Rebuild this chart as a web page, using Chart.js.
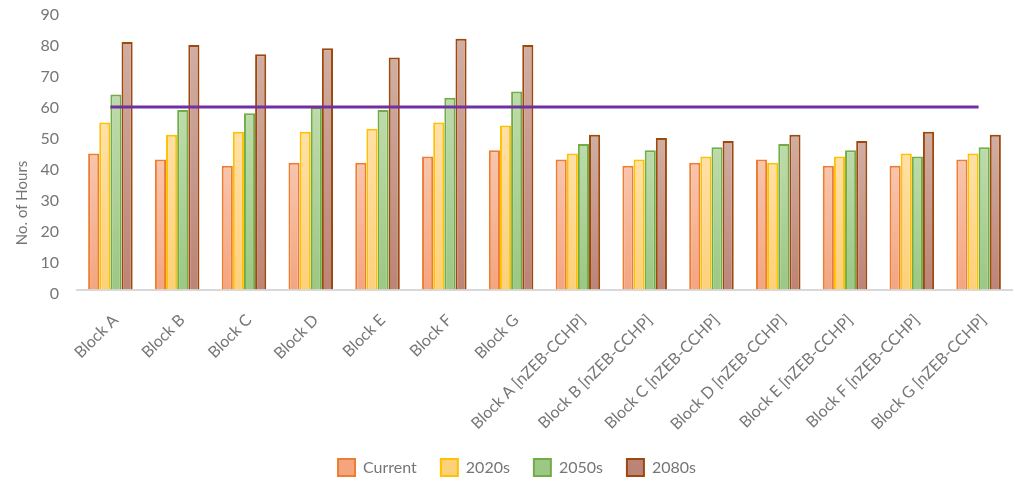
<!DOCTYPE html>
<html>
<head>
<meta charset="utf-8">
<script src="https://cdn.jsdelivr.net/npm/chart.js@4/dist/chart.umd.min.js"></script>
<style>
  html, body { margin: 0; padding: 0; background: #fff; }
  canvas { display: block; }
</style>
</head>
<body>
<canvas id="hoursChart" width="1015" height="483"></canvas>
<script>
// Overheating hours per block, current climate and future periods
const blocks = [
  'Block A', 'Block B', 'Block C', 'Block D', 'Block E', 'Block F', 'Block G',
  'Block A [nZEB-CCHP]', 'Block B [nZEB-CCHP]', 'Block C [nZEB-CCHP]', 'Block D [nZEB-CCHP]',
  'Block E [nZEB-CCHP]', 'Block F [nZEB-CCHP]', 'Block G [nZEB-CCHP]'
];
const current = [44, 42, 40, 41, 41, 43, 45, 42, 40, 41, 42, 40, 40, 42];
const y2020s  = [54, 50, 51, 51, 52, 54, 53, 44, 42, 43, 41, 43, 44, 44];
const y2050s  = [63, 58, 57, 59, 58, 62, 64, 47, 45, 46, 47, 45, 43, 46];
const y2080s  = [80, 79, 76, 78, 75, 81, 79, 50, 49, 48, 50, 48, 51, 50];
const limitHours = [59, 59, 59, 59, 59, 59, 59, 59, 59, 59, 59, 59, 59, 59];

const yTicks = { min: 0, max: 90, step: 10 };

const textGrey = '#767676';
const fontFamily = 'Lato, "Open Sans", sans-serif';

// vertical gradient for each bar, lighter at the top
function barFill(topColor, bottomColor, flatColor) {
  return (context) => {
    const chart = context.chart;
    if (context.type !== 'data' || !chart.chartArea || !context.parsed) return flatColor;
    const y = chart.scales.y;
    const yTop = y.getPixelForValue(context.parsed.y);
    const yBase = y.getPixelForValue(0);
    const g = chart.ctx.createLinearGradient(0, yTop, 0, yBase);
    g.addColorStop(0, topColor);
    g.addColorStop(1, bottomColor);
    return g;
  };
}

// rotated axis title on the left
const yTitle = {
  id: 'yTitle',
  afterDraw(chart) {
    const { ctx, scales: { y } } = chart;
    ctx.save();
    ctx.translate(22, y.getPixelForValue(28));
    ctx.rotate(-Math.PI / 2);
    ctx.font = '15px ' + fontFamily;
    ctx.fillStyle = textGrey;
    ctx.textAlign = 'center';
    ctx.textBaseline = 'middle';
    ctx.fillText('No. of Hours', 0, 0);
    ctx.restore();
  }
};

// the legend centres its row including the trailing gap; nudge it back
const legendNudge = {
  id: 'legendNudge',
  afterLayout(chart) {
    if (chart.legend) {
      chart.legend.left += 11;
      chart.legend.right += 11;
    }
  }
};

const ctx = document.getElementById('hoursChart').getContext('2d');
new Chart(ctx, {
  type: 'bar',
  data: {
    labels: blocks,
    datasets: [
      {
        type: 'line',
        label: 'Limit',
        data: limitHours,
        borderColor: '#7030A0',
        borderWidth: 3,
        pointRadius: 0,
        fill: false,
        order: 0
      },
      {
        label: 'Current',
        data: current,
        backgroundColor: barFill('#F8C5AE', '#F4A580', '#F5B495'),
        borderColor: '#ED7D31',
        borderWidth: 2,
        order: 1
      },
      {
        label: '2020s',
        data: y2020s,
        backgroundColor: barFill('#FFE0A8', '#FDD07A', '#FED993'),
        borderColor: '#FFC000',
        borderWidth: 2,
        order: 1
      },
      {
        label: '2050s',
        data: y2050s,
        backgroundColor: barFill('#BEDBAB', '#9CC784', '#B0D29A'),
        borderColor: '#70AD47',
        borderWidth: 2,
        order: 1
      },
      {
        label: '2080s',
        data: y2080s,
        backgroundColor: barFill('#D1AEA2', '#BC8476', '#C99C8F'),
        borderColor: '#9E480E',
        borderWidth: 2,
        order: 1
      }
    ]
  },
  options: {
    responsive: false,
    animation: false,
    layout: { padding: { top: 0, right: 3, bottom: -3, left: 0 } },
    datasets: {
      bar: { categoryPercentage: 0.667, barPercentage: 1.0 }
    },
    scales: {
      x: {
        grid: { display: false, drawTicks: false },
        border: { display: true, color: '#D9D9D9', width: 2 },
        ticks: {
          color: textGrey,
          font: { family: fontFamily, size: 16 },
          autoSkip: false,
          maxRotation: 45,
          minRotation: 45,
          padding: 21,
          labelOffset: 5
        },
        afterFit(scale) { scale.height = scale.height - 20; }
      },
      y: {
        min: yTicks.min,
        max: yTicks.max,
        grid: { display: false, drawTicks: false },
        border: { display: false },
        ticks: {
          stepSize: yTicks.step,
          color: textGrey,
          font: { family: fontFamily, size: 16 },
          padding: 18,
          labelOffset: 4
        },
        afterFit(scale) {
          scale.width = 77;
          scale.paddingTop = 11;
          scale.paddingBottom = 0;
        }
      }
    },
    plugins: {
      tooltip: { enabled: false },
      legend: {
        position: 'bottom',
        labels: {
          color: textGrey,
          font: { family: fontFamily, size: 16 },
          boxWidth: 17,
          boxHeight: 17,
          padding: 24,
          filter: (item) => item.text !== 'Limit'
        }
      }
    }
  },
  plugins: [yTitle, legendNudge]
});
</script>
</body>
</html>
